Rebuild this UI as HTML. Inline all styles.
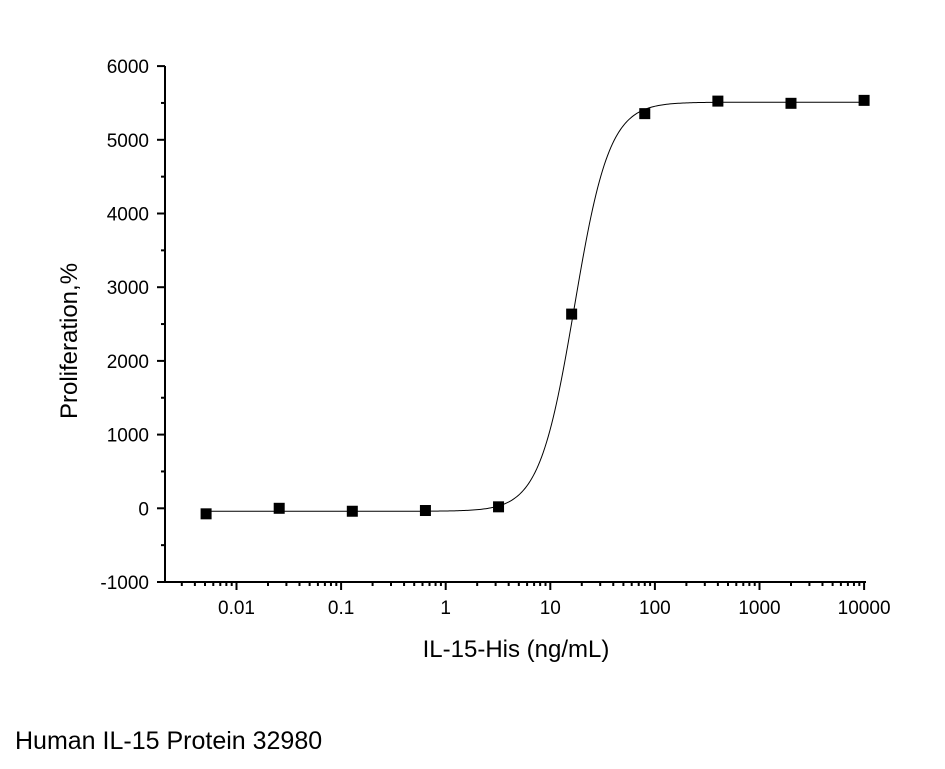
<!DOCTYPE html>
<html><head><meta charset="utf-8"><style>
body{margin:0;background:#fff;width:945px;height:764px;overflow:hidden}
text{font-family:"Liberation Sans",Arial,sans-serif;fill:#000}
</style></head><body>
<svg id="chart" width="945" height="764" viewBox="0 0 945 764" xmlns="http://www.w3.org/2000/svg"></svg>
<script>
const concentrations=[0.00512,0.0256,0.128,0.64,3.2,16,80,400,2000,10000];
const proliferation=[-75,0,-40,-30,20,2635,5355,5525,5495,5535];
const yTicks=[-1000,0,1000,2000,3000,4000,5000,6000];
const xTicks=[0.01,0.1,1,10,100,1000,10000];
const xTickLabels=["0.01","0.1","1","10","100","1000","10000"];
const fitBottom=-40, fitTop=5510, fitEC50=17, fitHill=2.6;

const svg=document.getElementById('chart');
const NS='http://www.w3.org/2000/svg';
const X0=165,X1=866,Y0=582,Y1=66;
function xs(v){return 236.5+(Math.log10(v)+2)*104.6;}
function ys(v){return 508.3-v*0.0737;}
function mk(tag,attrs,parent){const e=document.createElementNS(NS,tag);for(const k in attrs)e.setAttribute(k,attrs[k]);(parent||svg).appendChild(e);return e;}

const axes=mk('g',{stroke:'#000','stroke-width':2});


const xl=mk('line',{x1:X0-1,y1:Y0,x2:X1,y2:Y0},axes);


const yl=mk('line',{x1:X0,y1:Y0+1,x2:X0,y2:Y1},axes);



yTicks.forEach(v=>{
  const y=ys(v);
  mk('line',{x1:X0-8,y1:y,x2:X0,y2:y},axes);
  const t=mk('text',{x:X0-16,y:y+7,'text-anchor':'end','font-size':19});
  t.textContent=v;
  
  
  if(v<6000) mk('line',{x1:X0-4,y1:ys(v+500),x2:X0,y2:ys(v+500)},axes);
});
for(let d=-3;d<=4;d++){
  for(let m=1;m<=9;m++){
    const v=m*Math.pow(10,d);
    const x=xs(v);
    if(x<X0-0.5||x>X1+0.5)continue;
    mk('line',{x1:x,y1:Y0,x2:x,y2:Y0+(m===1?8:4)},axes);
  }
}
xTicks.forEach((v,i)=>{
  const t=mk('text',{x:xs(v),y:Y0+32,'text-anchor':'middle','font-size':19});
  t.textContent=xTickLabels[i];
  
  
});

let d='';
for(let i=0;i<=400;i++){
  const lv=Math.log10(concentrations[0])+i/400*(Math.log10(concentrations[concentrations.length-1])-Math.log10(concentrations[0]));
  const c=Math.pow(10,lv);
  const yv=fitBottom+(fitTop-fitBottom)/(1+Math.pow(fitEC50/c,fitHill));
  d+=(i?'L':'M')+xs(c).toFixed(2)+','+ys(yv).toFixed(2);
}
const curve=mk('path',{d:d,fill:'none',stroke:'#000','stroke-width':1});



concentrations.forEach((c,i)=>{
  const r=mk('rect',{x:xs(c)-5.5,y:ys(proliferation[i])-5.5,width:11,height:11,fill:'#000'});
  
  
});

const xt=mk('text',{x:516,y:657,'text-anchor':'middle','font-size':24});
xt.textContent='IL-15-His (ng/mL)';


const yt=mk('text',{x:0,y:0,'text-anchor':'middle','font-size':24,transform:'translate(77,341) rotate(-90)'});
yt.textContent='Proliferation,%';


const cap=mk('text',{x:15,y:749,'font-size':25});
cap.textContent='Human IL-15 Protein 32980';


</script>
</body></html>
